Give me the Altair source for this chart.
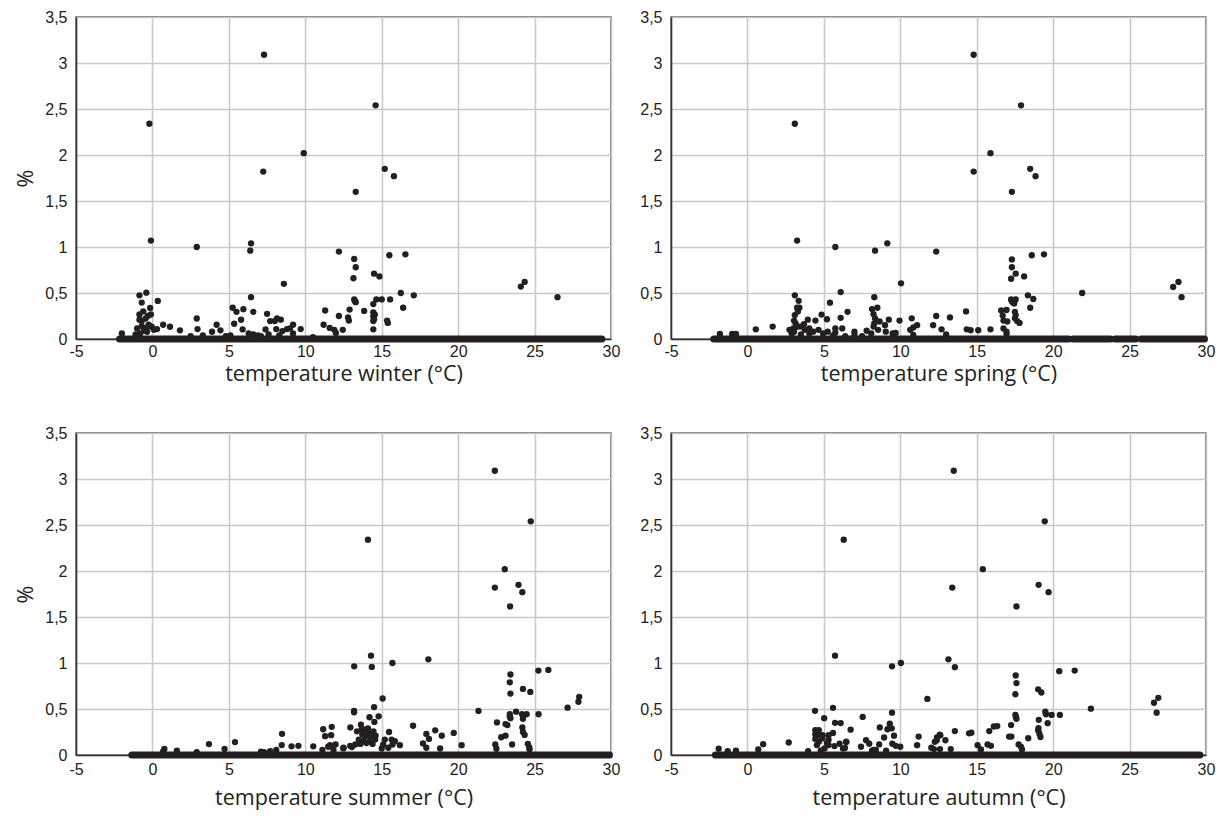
import altair as alt
import pandas as pd

XTICKS = [-5, 0, 5, 10, 15, 20, 25, 30]
YTICKS = [0, 0.5, 1, 1.5, 2, 2.5, 3, 3.5]
DOT = "#231f20"

# ---------- winter ----------
winter_t = [-0.2, 7.3, 7.25, 9.9, 14.6, 15.2, 15.8, 13.3, -0.1, 2.9, 6.45, 6.4, 12.2, 13.2, 13.3, 13.15,
            15.5, 16.55, 14.5, 14.85, 8.6, 24.1, 24.35, 26.5, 6.45, 16.25, 17.1, 13.2, 13.3, 13.25, 14.65,
            15.0, 15.55, 14.45, 16.4, 13.85, 12.9, 14.45, 14.55, 14.45, 14.5, 14.45, 14.45, 15.35, 15.4,
            12.2, 12.8, 12.85, 12.45, 11.3, 11.2, 11.6, 11.9, 12.0, 9.7, 9.2, 9.0, 8.8, 8.4, 8.15, 8.0, 7.7,
            7.5, 6.6, 5.95, 5.25, 5.5, 5.8, 5.35, 5.9, 7.4, 8.1, 8.5, 4.2, 4.45, 3.9, 2.9, 2.95, 1.8, 1.15,
            0.7, 0.35, -0.4, -0.85, -0.7, -0.15, -0.1, -0.85, -0.85, -0.7, -0.45, -0.25, -0.05, -1.0, -0.55,
            0.3, -0.35, -2.0, -1.1, -0.6, -0.3, -0.7, -0.4, 0.1, -0.8, 2.5, 3.3, 4.8, 5.1, 6.6, 6.9, 7.1, 7.6,
            8.3, 9.2, 10.5, 6.3]
winter_p = [2.34, 3.09, 1.82, 2.02, 2.54, 1.85, 1.77, 1.6, 1.07, 1.0, 1.04, 0.96, 0.95, 0.87, 0.78, 0.66,
            0.91, 0.92, 0.71, 0.68, 0.6, 0.57, 0.62, 0.455, 0.455, 0.5, 0.475, 0.43, 0.40, 0.41, 0.43,
            0.43, 0.43, 0.38, 0.34, 0.305, 0.32, 0.29, 0.265, 0.245, 0.216, 0.195, 0.105, 0.2, 0.175,
            0.25, 0.235, 0.2, 0.1, 0.31, 0.155, 0.12, 0.1, 0.065, 0.108, 0.155, 0.115, 0.108, 0.21, 0.223,
            0.195, 0.195, 0.274, 0.295, 0.324, 0.34, 0.295, 0.209, 0.166, 0.104, 0.104, 0.108, 0.086, 0.155,
            0.094, 0.079, 0.223, 0.108, 0.094, 0.133, 0.155, 0.414, 0.504, 0.475, 0.396, 0.338, 0.266, 0.266,
            0.209, 0.195, 0.223, 0.155, 0.133, 0.115, 0.09, 0.108, 0.079, 0.061, 0.05, 0.3, 0.25, 0.14, 0.12,
            0.1, 0.06, 0.03, 0.04, 0.03, 0.04, 0.05, 0.04, 0.03, 0.05, 0.04, 0.06, 0.02, 0.06]
winter_zero_from = [-2.15]
winter_zero_to = [29.4]

# ---------- spring ----------
spring_t = [14.8, 17.9, 3.1, 15.9, 14.8, 18.5, 18.85, 17.3, 3.25, 5.75, 9.15, 8.35, 12.35, 18.6, 19.4, 17.3,
            17.3, 17.55, 17.25, 18.1, 10.05, 21.9, 27.85, 28.2, 28.4, 6.1, 3.1, 3.35, 8.3, 5.4, 18.35, 18.7,
            17.25, 17.55, 17.35, 17.45, 17.3, 18.5, 17.5, 17.55, 17.5, 17.65, 17.8, 16.6, 16.7, 16.75, 16.95,
            17.0, 16.75, 16.95, 16.95, 14.3, 13.25, 12.35, 12.15, 12.7, 13.0, 14.35, 14.6, 15.1, 15.9, 10.75,
            9.95, 9.25, 9.0, 9.05, 9.5, 9.7, 10.65, 10.85, 11.1, 10.85, 8.15, 8.25, 8.5, 8.35, 8.3, 8.65, 8.55,
            8.25, 8.1, 7.8, 7.0, 7.0, 6.55, 6.1, 6.2, 5.75, 5.75, 5.25, 5.2, 4.85, 4.45, 3.95, 3.7, 3.1, 3.05,
            3.15, 3.0, 3.05, 2.75, 2.9, 3.25, 3.4, 3.45, 3.75, 4.05, 4.3, 4.65, 4.95, 4.05, 1.65, 0.55, -1.8,
            -1.0, -0.75, 3.3, 3.2, 3.5, 5.6, 6.4, 7.5]
spring_p = [3.09, 2.54, 2.34, 2.02, 1.82, 1.85, 1.77, 1.6, 1.07, 1.0, 1.04, 0.96, 0.95, 0.91, 0.92, 0.865,
            0.78, 0.71, 0.655, 0.68, 0.605, 0.5, 0.565, 0.62, 0.455, 0.51, 0.475, 0.415, 0.455, 0.395, 0.475,
            0.435, 0.43, 0.43, 0.40, 0.385, 0.41, 0.34, 0.295, 0.26, 0.225, 0.195, 0.175, 0.31, 0.255, 0.2,
            0.315, 0.19, 0.115, 0.08, 0.055, 0.3, 0.235, 0.25, 0.15, 0.105, 0.05, 0.105, 0.095, 0.095, 0.105,
            0.225, 0.2, 0.21, 0.15, 0.08, 0.06, 0.065, 0.1, 0.125, 0.15, 0.045, 0.325, 0.27, 0.34, 0.225,
            0.17, 0.19, 0.1, 0.135, 0.06, 0.09, 0.08, 0.045, 0.295, 0.23, 0.115, 0.115, 0.07, 0.08, 0.215,
            0.265, 0.2, 0.21, 0.16, 0.26, 0.2, 0.17, 0.115, 0.08, 0.1, 0.06, 0.34, 0.34, 0.135, 0.1, 0.115,
            0.08, 0.1, 0.06, 0.06, 0.135, 0.105, 0.055, 0.055, 0.055, 0.3, 0.13, 0.05, 0.04, 0.03, 0.03]
spring_zero_from = [-2.2, 21.3, 24.05, 25.75]
spring_zero_to = [21.0, 23.75, 25.4, 29.9]

# ---------- summer ----------
summer_t = [22.4, 24.75, 14.1, 23.05, 22.4, 23.95, 24.2, 23.4, 14.3, 14.35, 13.2, 15.7, 18.05, 25.25, 25.9,
            23.42, 23.38, 23.42, 24.24, 24.72, 27.92, 27.87, 27.16, 15.06, 13.19, 13.19, 14.5, 17.05, 17.92,
            18.09, 18.5, 18.93, 19.71, 17.7, 17.92, 18.82, 20.23, 21.33, 22.54, 23.1, 23.22, 22.82, 23.1,
            23.38, 23.38, 23.42, 23.79, 24.18, 24.48, 25.26, 24.24, 24.2, 24.24, 24.35, 24.56, 24.65, 24.67,
            23.53, 22.43, 22.5, 12.95, 13.38, 13.64, 14.2, 14.52, 14.8, 13.88, 14.14, 14.24, 13.92, 14.1,
            14.46, 13.73, 13.5, 13.8, 14.2, 14.57, 13.27, 13.05, 13.6, 14.0, 14.4, 13.7, 14.6, 15.48, 15.2,
            15.65, 15.86, 15.0, 15.43, 16.19, 15.71, 15.1, 12.5, 11.98, 0.78, 1.6, 3.7, 4.72, 5.4, 2.9, 7.1,
            7.7, 8.1, 8.48, 8.46, 9.1, 9.55, 10.52, 11.12, 11.17, 11.73, 11.3, 11.69, 11.62, 11.5, 11.84,
            12.49, 12.94, 0.7, 7.3]
summer_p = [3.09, 2.54, 2.34, 2.02, 1.82, 1.85, 1.77, 1.615, 1.08, 0.957, 0.964, 1.0, 1.04, 0.918, 0.925,
            0.875, 0.79, 0.668, 0.718, 0.686, 0.632, 0.579, 0.514, 0.614, 0.479, 0.464, 0.521, 0.318, 0.229,
            0.175, 0.268, 0.21, 0.24, 0.125, 0.079, 0.071, 0.107, 0.479, 0.354, 0.336, 0.325, 0.193, 0.21,
            0.443, 0.418, 0.4, 0.471, 0.443, 0.443, 0.443, 0.393, 0.3, 0.25, 0.218, 0.121, 0.086, 0.061,
            0.114, 0.114, 0.068, 0.3, 0.257, 0.329, 0.41, 0.36, 0.42, 0.275, 0.24, 0.204, 0.204, 0.29,
            0.257, 0.222, 0.168, 0.15, 0.15, 0.168, 0.114, 0.086, 0.12, 0.13, 0.12, 0.28, 0.21, 0.25, 0.168,
            0.168, 0.15, 0.071, 0.079, 0.107, 0.114, 0.114, 0.079, 0.114, 0.065, 0.047, 0.119, 0.065, 0.14,
            0.03, 0.036, 0.043, 0.054, 0.23, 0.108, 0.094, 0.1, 0.094, 0.054, 0.28, 0.306, 0.205, 0.216,
            0.108, 0.09, 0.054, 0.072, 0.1, 0.04, 0.03]
summer_zero_from = [-1.35]
summer_zero_to = [29.9]

# ---------- autumn ----------
autumn_t = [13.5, 19.45, 6.3, 15.4, 13.4, 19.05, 19.7, 17.6, 5.73, 13.15, 13.57, 9.46, 10.04, 20.4, 21.41,
            17.55, 17.6, 17.53, 19.02, 19.23, 11.77, 22.47, 26.6, 26.88, 26.77, 17.53, 17.57, 17.6, 19.49,
            19.53, 19.9, 20.44, 19.64, 19.06, 17.25, 15.82, 16.12, 16.34, 13.57, 14.5, 14.65, 12.58, 17.12,
            17.27, 19.04, 19.02, 19.1, 19.17, 18.37, 17.74, 17.9, 17.96, 15.71, 15.93, 15.06, 15.28, 12.95,
            12.39, 12.26, 12.62, 12.4, 13.3, 12.6, 12.2, 4.42, 5.6, 5.02, 5.73, 6.1, 7.54, 9.46, 9.31, 9.44,
            9.16, 8.66, 6.75, 5.6, 4.44, 4.67, 4.44, 4.67, 4.92, 5.31, 4.44, 5.31, 4.67, 4.54, 5.31, 5.05,
            5.69, 6.47, 6.03, 6.25, 7.76, 7.97, 7.43, 8.94, 8.62, 9.59, 9.48, 9.7, 10.0, 11.2, 11.1, 12.03,
            2.7, 1.03, 0.71, -1.88, -1.29, -0.75, 3.97, 8.15, 8.4, 6.46, 6.38, 9.07, 8.27, 4.9, 5.2, 4.8]
autumn_p = [3.09, 2.54, 2.34, 2.02, 1.82, 1.85, 1.77, 1.615, 1.08, 1.04, 0.955, 0.964, 1.0, 0.911, 0.918,
            0.864, 0.782, 0.66, 0.714, 0.679, 0.61, 0.504, 0.568, 0.621, 0.46, 0.436, 0.41, 0.393, 0.471,
            0.443, 0.436, 0.436, 0.346, 0.382, 0.325, 0.26, 0.31, 0.314, 0.26, 0.236, 0.243, 0.221, 0.2,
            0.2, 0.293, 0.268, 0.232, 0.196, 0.182, 0.114, 0.089, 0.061, 0.114, 0.1, 0.107, 0.061, 0.16,
            0.16, 0.143, 0.214, 0.19, 0.064, 0.064, 0.064, 0.48, 0.513, 0.4, 0.35, 0.347, 0.414, 0.46, 0.34,
            0.29, 0.28, 0.3, 0.275, 0.24, 0.27, 0.27, 0.223, 0.216, 0.216, 0.216, 0.173, 0.165, 0.144, 0.108,
            0.108, 0.072, 0.097, 0.14, 0.122, 0.07, 0.16, 0.122, 0.09, 0.19, 0.115, 0.21, 0.122, 0.1, 0.09,
            0.2, 0.107, 0.079, 0.136, 0.118, 0.061, 0.068, 0.043, 0.047, 0.043, 0.047, 0.054, 0.144, 0.076,
            0.047, 0.054, 0.18, 0.13, 0.05]
autumn_zero_from = [-2.1]
autumn_zero_to = [29.6]

PANEL_W = 535
PANEL_H = 322
COMMA = "replace(toString(datum.value), '.', ',')"


def panel(ts, ps, z0, z1, title, y_title, label_pad, title_pad):
    pts = pd.DataFrame({"t": ts, "p": ps})
    band = pd.DataFrame({"t": z0, "t2": z1, "p": [0.0] * len(z0)})
    xs = alt.Scale(domain=[-5, 30], nice=False, zero=False)
    ys = alt.Scale(domain=[0, 3.5], nice=False)
    xa = alt.Axis(values=XTICKS, title=title, labelPadding=label_pad, titlePadding=title_pad,
                  labelExpr="toString(datum.value)")
    if y_title:
        ya = alt.Axis(values=YTICKS, title="%", titlePadding=7, labelPadding=9, labelExpr=COMMA)
    else:
        ya = alt.Axis(values=YTICKS, title=None, labelPadding=9, labelExpr=COMMA)
    rule = alt.Chart(band).mark_rule(strokeWidth=7, strokeCap="round", color=DOT).encode(
        x=alt.X("t:Q", scale=xs, axis=xa),
        x2="t2:Q",
        y=alt.Y("p:Q", scale=ys, axis=ya),
    )
    dots = alt.Chart(pts).mark_circle(size=40, opacity=1, color=DOT).encode(
        x=alt.X("t:Q", scale=xs, axis=xa),
        y=alt.Y("p:Q", scale=ys, axis=ya),
    )
    return alt.layer(rule, dots).properties(width=PANEL_W, height=PANEL_H)


p1 = panel(winter_t, winter_p, winter_zero_from, winter_zero_to, "temperature winter (°C)", True, 4, 4)
p2 = panel(spring_t, spring_p, spring_zero_from, spring_zero_to, "temperature spring (°C)", False, 4, 4)
p3 = panel(summer_t, summer_p, summer_zero_from, summer_zero_to, "temperature summer (°C)", True, 6, 10)
p4 = panel(autumn_t, autumn_p, autumn_zero_from, autumn_zero_to, "temperature autumn (°C)", False, 6, 10)

chart = alt.concat(p1, p2, p3, p4, columns=2, spacing={"row": 94, "column": 60}).properties(
    bounds="flush",
    padding={"left": 7, "top": 0, "right": 4, "bottom": 2},
    background="white",
).configure_view(
    stroke="#555555", strokeWidth=1.5
).configure_axis(
    grid=True, gridColor="#c8c8c8", gridWidth=1.5,
    domain=True, domainColor="#333333", domainWidth=1.5,
    ticks=False,
    labelFont="Liberation Sans", labelFontSize=16, labelColor="#222222",
    titleFont="Open Sans", titleFontSize=21.5, titleFontWeight="normal", titleColor="#222222",
).configure_axisX(
    labelFlush=False
)

chart.save("out.html", embed_options={"renderer": "svg", "actions": False})
